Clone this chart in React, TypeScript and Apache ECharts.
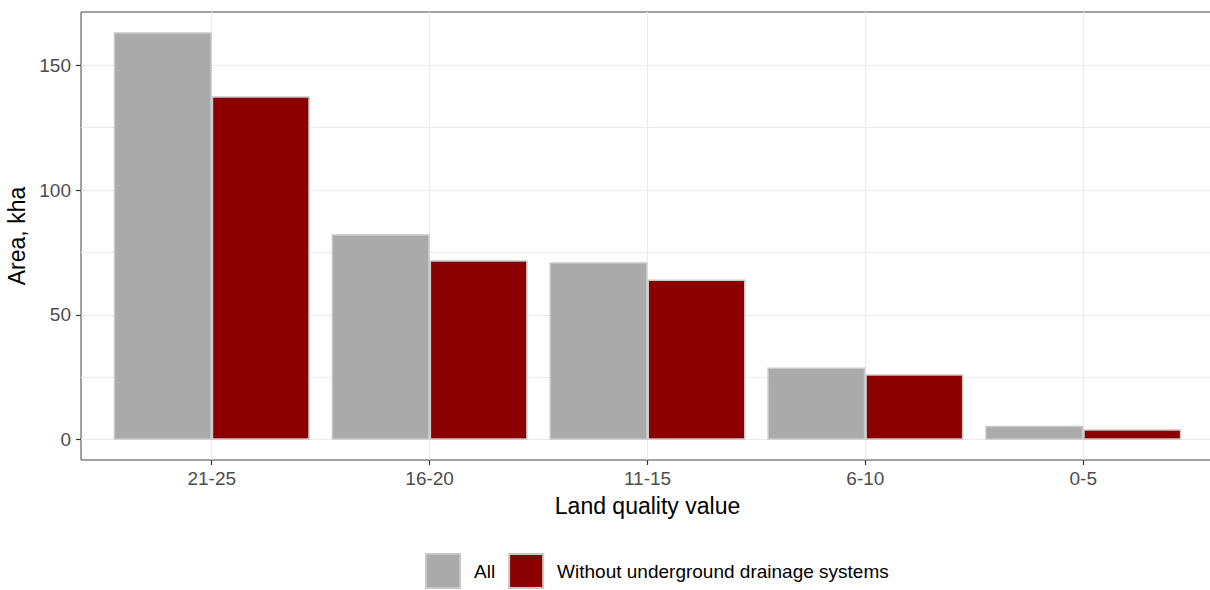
import React, { useEffect, useRef } from "react";
import * as echarts from "echarts";

const categories = ["21-25", "16-20", "11-15", "6-10", "0-5"];
const allValues = [163.2, 82.3, 71.1, 28.9, 5.6];
const withoutDrainage = [137.6, 71.9, 64.2, 26.2, 4.2];
const yMajorTicks = [0, 50, 100, 150];
const yGridLines = [0, 25, 50, 75, 100, 125, 150];
const categoryPositions = [1, 2, 3, 4, 5];

export default function App() {
  const ref = useRef<HTMLDivElement>(null);
  useEffect(() => {
    document.body.style.margin = "0";
    const chart = echarts.init(ref.current!, null, { renderer: "svg" });
    const font = "Liberation Sans, Arial, sans-serif";
    const yMin = -8.16;
    const yMax = 171.36;
    chart.setOption({
      animation: false,
      backgroundColor: "#ffffff",
      grid: {
        left: 81,
        top: 12,
        width: 1133,
        height: 448,
        show: true,
        borderColor: "#444444",
        borderWidth: 1,
        backgroundColor: "transparent",
        containLabel: false,
        outerBoundsMode: "none",
      },
      legend: {
        bottom: 1,
        left: 425,
        padding: 0,
        itemWidth: 34,
        itemHeight: 34,
        itemGap: 13,
        icon: "rect",
        textStyle: {
          fontFamily: font,
          fontSize: 19,
          color: "#000000",
          padding: [0, 0, 0, 9],
        },
        data: ["All", "Without underground drainage systems"],
      },
      xAxis: {
        type: "value",
        min: 0.4,
        max: 5.6,
        name: "Land quality value",
        nameLocation: "middle",
        nameGap: 34,
        nameTextStyle: { fontFamily: font, fontSize: 23, color: "#000000" },
        axisLine: { show: false, onZero: false },
        axisTick: {
          show: true,
          inside: false,
          customValues: categoryPositions,
          length: 5,
          lineStyle: { color: "#333333", width: 1.2 },
        },
        axisLabel: {
          customValues: categoryPositions,
          formatter: (v: number) => categories[Math.round(v) - 1] ?? "",
          fontFamily: font,
          fontSize: 19,
          color: "#4d4d4d",
          margin: 9,
        },
        splitLine: { show: true, lineStyle: { color: "#ebebeb", width: 1.2 } },
      },
      yAxis: [
        {
          type: "value",
          min: yMin,
          max: yMax,
          name: "Area, kha",
          nameLocation: "middle",
          nameGap: 49,
          nameTextStyle: { fontFamily: font, fontSize: 23, color: "#000000" },
          axisLine: { show: false, onZero: false },
          axisTick: {
            show: true,
            inside: false,
            customValues: yMajorTicks,
            length: 5,
            lineStyle: { color: "#333333", width: 1.2 },
          },
          axisLabel: {
            customValues: yMajorTicks,
            fontFamily: font,
            fontSize: 19,
            color: "#4d4d4d",
            margin: 10,
          },
          splitLine: { show: false },
        },
        {
          type: "value",
          min: yMin,
          max: yMax,
          position: "left",
          axisLine: { show: false, onZero: false },
          axisTick: { show: false, customValues: yGridLines },
          axisLabel: { show: false, customValues: yGridLines },
          splitLine: { show: true, lineStyle: { color: "#ebebeb", width: 1.2 } },
        },
      ],
      series: [
        {
          name: "All",
          type: "bar",
          yAxisIndex: 0,
          barWidth: 98,
          barGap: "0%",
          itemStyle: { color: "#aaaaaa", borderColor: "#c8c8c8", borderWidth: 1.5 },
          data: allValues.map((v, i) => [categoryPositions[i], v]),
          z: 3,
        },
        {
          name: "Without underground drainage systems",
          type: "bar",
          yAxisIndex: 0,
          barWidth: 98,
          barGap: "0%",
          itemStyle: { color: "#8b0000", borderColor: "#c8c8c8", borderWidth: 1.5 },
          data: withoutDrainage.map((v, i) => [categoryPositions[i], v]),
          z: 3,
        },
      ],
    });
    return () => chart.dispose();
  }, []);
  return (
    <div
      ref={ref}
      style={{ position: "absolute", left: 0, top: 0, width: 1210, height: 590 }}
    />
  );
}
